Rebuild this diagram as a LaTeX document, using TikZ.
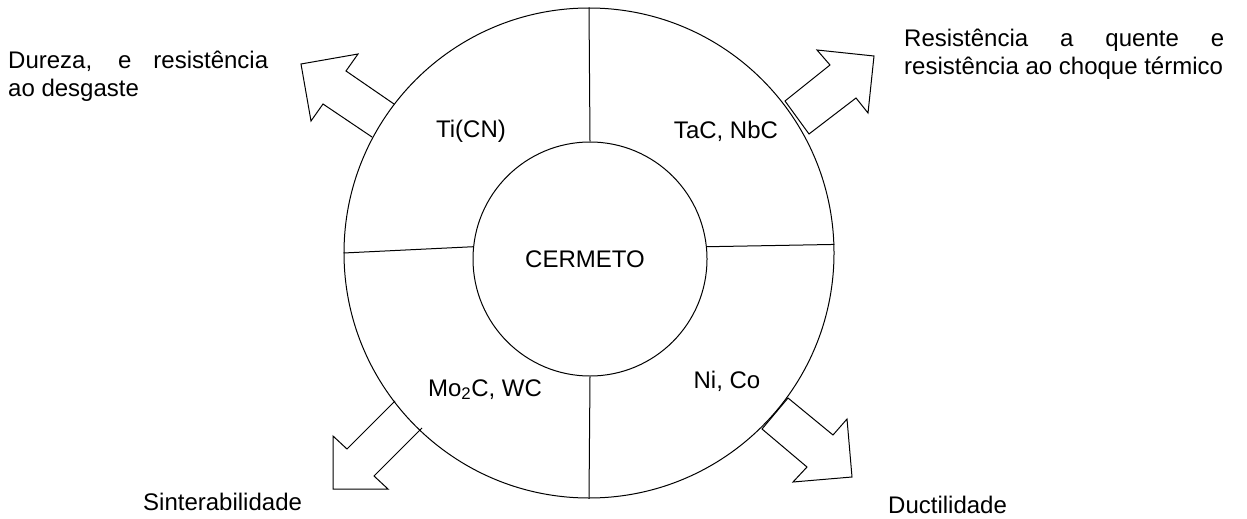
\documentclass[tikz,border=0pt]{standalone}
\usepackage{fontspec}
\setmainfont{Liberation Sans}
\usetikzlibrary{positioning}
\begin{document}
\begin{tikzpicture}[x=1pt,y=-1pt,
  ring/.style={circle,draw,line width=1pt,inner sep=0pt},
  part/.style={anchor=base,inner sep=0pt,font=\fontsize{24}{27.6}\selectfont},
  prop/.style={inner sep=0pt,align=left,font=\fontsize{24}{27.6}\selectfont},
  bigarrow/.style={draw,line width=1pt,line join=miter},
]
\useasboundingbox (0,0) rectangle (1247,519);

\node [ring,minimum size=490pt] (outer) at (589,253) {};
\node [ring,minimum size=234pt] (inner) at (590,259) {};
\node [part] (cermet) at (585,267) {CERMETO};

\draw [line width=1pt] (inner.90) -- (outer.90);
\draw [line width=1pt] (inner.270) -- (outer.270);
\draw [line width=1pt] (inner.174) -- (outer.180);
\draw [line width=1pt] (inner.6) -- (outer.2);

\node [part] (ticn) at (471,137) {Ti(CN)};
\node [part] (tac) at (726,138) {TaC, NbC};
\node [part] (moc) at (485,396) {Mo\textsubscript{2}C, WC};
\node [part] (nico) at (727,388) {Ni, Co};

\draw [bigarrow] (394,104) -- (346,71) -- (358,54) -- (301,64) -- (311,121) -- (323,104) -- (372,137);
\draw [bigarrow] (785,101) -- (830,65) -- (817,50) -- (874,56) -- (868,113) -- (856,98) -- (809,134) -- cycle;
\draw [bigarrow] (395,401) -- (347,449) -- (333,436) -- (333,489) -- (388,489) -- (374,476) -- (422,428);
\draw [bigarrow] (788,398) -- (833,435) -- (847,419) -- (852,477) -- (793,482) -- (807,467) -- (762,429) -- cycle;

\node [prop,anchor=north west] (hard) at (8,51) {\makebox[260pt][s]{Dureza, e resistência}\\ao desgaste};
\node [prop,anchor=north west] (heat) at (904,29) {\makebox[320pt][s]{Resistência a quente e}\\resistência ao choque térmico};
\node [prop,anchor=base west] (sinter) at (143,510) {Sinterabilidade};
\node [prop,anchor=base west] (duct) at (888,513) {Ductilidade};
\end{tikzpicture}
\end{document}
